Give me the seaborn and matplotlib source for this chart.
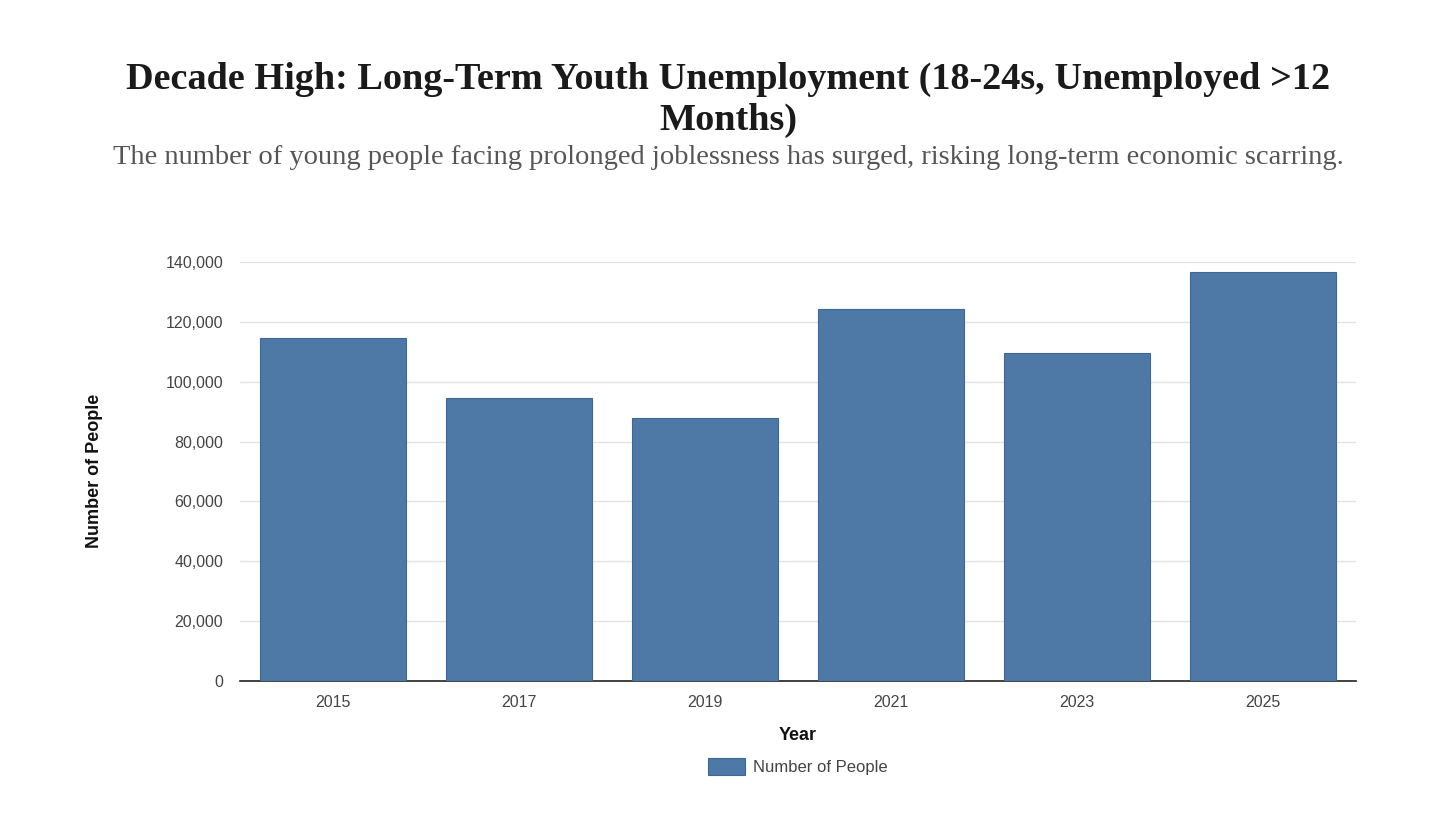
import matplotlib
matplotlib.use("Agg")
import matplotlib.pyplot as plt
import matplotlib.ticker as mticker
import pandas as pd
import seaborn as sns

years = ["2015", "2017", "2019", "2021", "2023", "2025"]
people = [114500, 94600, 87800, 124400, 109700, 136800]
y_ticks = [0, 20000, 40000, 60000, 80000, 100000, 120000, 140000]

title = "Decade High: Long-Term Youth Unemployment (18-24s, Unemployed >12\nMonths)"
subtitle = "The number of young people facing prolonged joblessness has surged, risking long-term economic scarring."

df = pd.DataFrame({"Year": years, "Number of People": people})

sns.set_theme(style="white")
plt.rcParams["font.family"] = ["Liberation Sans", "DejaVu Sans"]

W, H = 1456, 819
fig = plt.figure(figsize=(W / 100, H / 100), dpi=100)
ax = fig.add_axes([240 / W, 1 - 681 / H, 1116 / W, 419 / H])

bar_color = "#4e79a7"
sns.barplot(data=df, x="Year", y="Number of People", color=bar_color,
            width=0.79, edgecolor="#3b6796", linewidth=0.8, saturation=1,
            label="Number of People", ax=ax, zorder=3)

ax.set_xlim(-0.5, 5.5)
ax.set_ylim(0, 140000)
ax.set_yticks(y_ticks)
ax.yaxis.set_major_formatter(mticker.FuncFormatter(lambda v, p: f"{int(v):,}"))
ax.grid(axis="y", color="#e3e3e3", linewidth=1, zorder=0)
ax.grid(axis="x", visible=False)
for s in ["top", "right", "left"]:
    ax.spines[s].set_visible(False)
ax.spines["bottom"].set_color("#222222")
ax.spines["bottom"].set_linewidth(1.2)
ax.tick_params(axis="y", length=4, color="#e3e3e3", labelsize=11.5, labelcolor="#444444", pad=8)
ax.tick_params(axis="x", length=0, labelsize=11.5, labelcolor="#444444", pad=10)

ax.set_xlabel("Year", fontsize=13, fontweight="bold", color="#111111", labelpad=12)
ax.set_ylabel("")
fig.text(94 / W, 1 - 471 / H, "Number of People", rotation=90, ha="center", va="center",
         fontsize=13, fontweight="bold", color="#111111")

leg = ax.legend(loc="upper center", bbox_to_anchor=(0.5, -0.148), frameon=False,
                fontsize=12, handlelength=2.2, handleheight=1.2, handletextpad=0.5)
for t in leg.get_texts():
    t.set_color("#444444")

serif = ["Liberation Serif", "DejaVu Serif"]
fig.text(0.5, 1 - 100 / H, title, ha="center", va="center", fontsize=27.5,
         fontweight="bold", color="#1a1a1a", family=serif, linespacing=1.2)
fig.text(0.5, 1 - 158 / H, subtitle, ha="center", va="center", fontsize=20.5,
         color="#555555", family=serif)

fig.savefig("out.png", dpi=100, facecolor="white")
